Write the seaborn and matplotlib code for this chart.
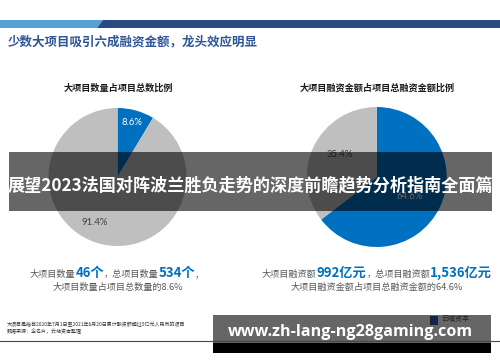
import matplotlib
matplotlib.use("Agg")
import matplotlib.pyplot as plt
import seaborn as sns
import numpy as np
from matplotlib.patches import Rectangle, Polygon
from matplotlib.offsetbox import TextArea, HPacker, AnnotationBbox

sns.set_theme(style="white")
plt.rcParams['font.family'] = ['Noto Sans CJK SC', 'DejaVu Sans']

# ---------------- data ----------------
page_title = "少数大项目吸引六成融资金额，龙头效应明显"
count_title = "大项目数量占项目总数比例"
amount_title = "大项目融资金额占项目总融资金额比例"
slice_names = ["大项目", "其他项目"]
count_share = [8.6, 91.4]
amount_share = [64.6, 35.4]
big_count = 46
total_count = 534
big_amount = 992
total_amount = 1536
banner_text = "展望2023法国对阵波兰胜负走势的深度前瞻趋势分析指南全面篇"
watermark = "www.zh-lang-ng28gaming.com"
footnotes = ["大项目是指自2020年7月1日至2021年6月20日累计融资额超过5亿元人民币的项目",
             "数据来源：企名片，云岫资本整理"]
brand = "云岫资本"
page_no = "3"

W, H = 500, 362
BLUE = "#0070c0"
GRAY = "#bfbfbf"
TXT = "#595959"

fig = plt.figure(figsize=(W / 100, H / 100), dpi=100)
fig.patch.set_facecolor("white")


def px_axes(cx, cy, r):
    return fig.add_axes([(cx - r) / W, (H - cy - r) / H, 2 * r / W, 2 * r / H])


def draw_pie(cx, cy, r, shares, label_r, label_dang, label_colors):
    ax = px_axes(cx, cy, r)
    ax.pie(shares, colors=[BLUE, GRAY], startangle=90, counterclock=False,
           radius=1, wedgeprops=dict(linewidth=0))
    ax.set_xlim(-1, 1)
    ax.set_ylim(-1, 1)
    ax.set_aspect('equal')
    ax.axis('off')
    cum = np.cumsum([0] + list(shares))
    for i, v in enumerate(shares):
        mid = 90 - 3.6 * (cum[i] + cum[i + 1]) / 2 + label_dang[i]
        rr = label_r[i]
        ax.text(rr * np.cos(np.radians(mid)), rr * np.sin(np.radians(mid)),
                f"{v}%", ha='center', va='center', color=label_colors[i],
                fontsize=6.8, family=['Lato', 'DejaVu Sans'])
    return ax


draw_pie(117.5, 177, 69, count_share, [0.82, 0.73], [1, -11], ["white", "#404040"])
draw_pie(376.7, 177, 70, amount_share, [0.54, 0.61], [-4, -5], ["white", "#404040"])

ov = fig.add_axes([0, 0, 1, 1], zorder=10)
ov.set_xlim(0, W)
ov.set_ylim(H, 0)
ov.axis('off')
ov.patch.set_alpha(0)

# top band
ov.add_patch(Polygon([(0, 20), (103, 20), (97, 28), (0, 28)], closed=True,
                     facecolor="#56a0d3", edgecolor="none"))
ov.add_patch(Polygon([(103, 20), (500, 20), (500, 28), (97, 28)], closed=True,
                     facecolor="#2b4a82", edgecolor="none"))
ov.text(8, 42, page_title, ha='left', va='center', fontsize=9, color="#2e5597",
        fontweight='bold')

# pie subtitles
ov.text(118, 88, count_title, ha='center', va='center', fontsize=6.6,
        color="#1a1a1a", fontweight='bold')
ov.text(377, 88, amount_title, ha='center', va='center', fontsize=6.6,
        color="#1a1a1a", fontweight='bold')


def rich_line(x, y, parts):
    kids = []
    for text, big in parts:
        if big:
            props = dict(fontsize=9.5, color=BLUE, fontweight='bold')
        else:
            props = dict(fontsize=6.6, color=TXT)
        kids.append(TextArea(text, textprops=props))
    box = HPacker(children=kids, align="baseline", pad=0, sep=0)
    ab = AnnotationBbox(box, (x, y), xycoords='data', frameon=False,
                        box_alignment=(0.5, 0.5), pad=0)
    ov.add_artist(ab)


rich_line(117, 273, [("大项目数量", False), (f"{big_count}个", True),
                     ("，总项目数量", False), (f"{total_count}个", True), ("，", False)])
ov.text(118, 287, f"大项目数量占项目总数量的{count_share[0]}%", ha='center',
        va='center', fontsize=6.6, color=TXT)
rich_line(377, 273, [("大项目融资额", False), (f"{big_amount}亿元", True),
                     ("，总项目融资额", False), (f"{total_amount:,}亿元", True)])
ov.text(377, 287, f"大项目融资金额占项目总融资金额的{amount_share[0]}%", ha='center',
        va='center', fontsize=6.6, color=TXT)

# footer
ov.text(7, 324, footnotes[0], ha='left', va='center', fontsize=3.6, color="#333333")
ov.text(7, 331, footnotes[1], ha='left', va='center', fontsize=3.6, color="#333333")
ov.plot([0, 500], [341, 341], color="#2b4a82", lw=0.8)
ov.add_patch(Rectangle((430, 316), 8, 9, facecolor="#2b5fa0", edgecolor="none"))
ov.text(442, 319.5, brand, ha='left', va='center', fontsize=5, color="#222222")
ov.text(481, 320, "|", ha='center', va='center', fontsize=5, color="#666666")
ov.text(488, 320, page_no, ha='center', va='center', fontsize=4.5, color="#666666")

# overlays
ov.add_patch(Rectangle((9, 152), 483, 59, facecolor="black", alpha=0.6,
                       edgecolor="none"))
ov.text(250.5, 185, banner_text, ha='center', va='center', fontsize=12.3,
        color="white", fontweight='bold')

ov.add_patch(Rectangle((213, 315), 278, 28, facecolor="black", alpha=0.6,
                       edgecolor="none"))
ov.add_patch(Rectangle((213, 343), 278, 10, facecolor="black", edgecolor="none"))
ov.text(350, 332, watermark, ha='center', va='center', fontsize=11.6,
        color="white", fontweight='bold', family=['Open Sans', 'DejaVu Sans'])

fig.savefig("out.png", dpi=100)
